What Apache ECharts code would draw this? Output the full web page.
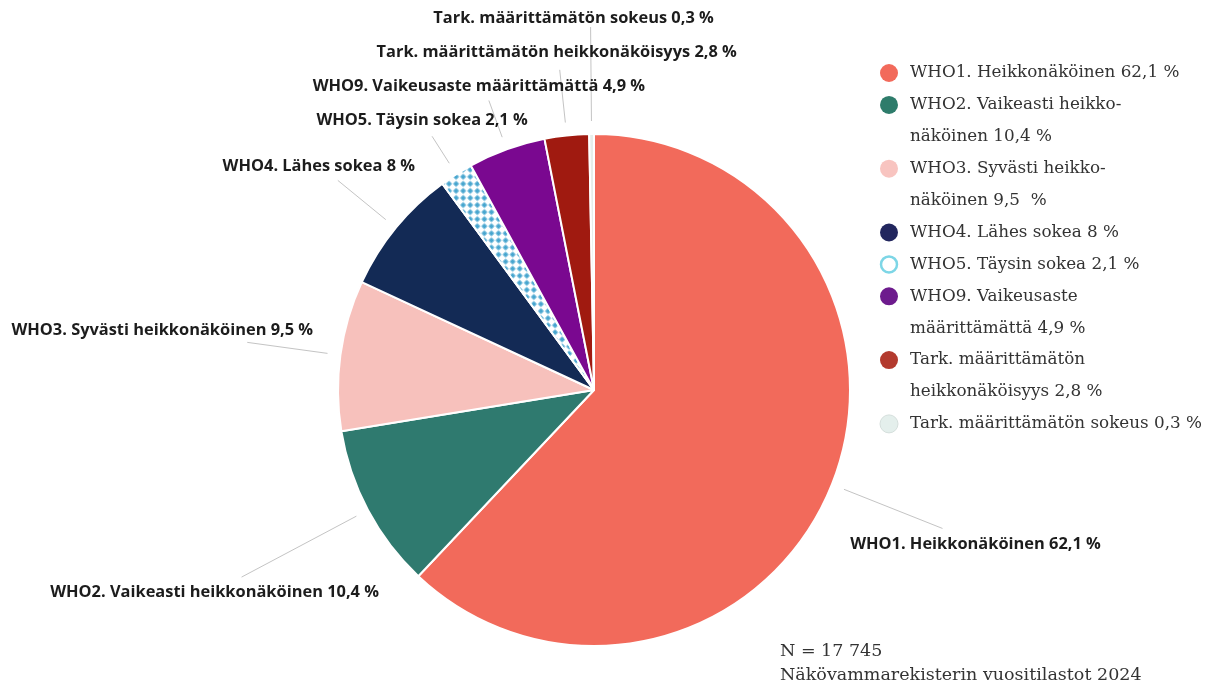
<!DOCTYPE html>
<html>
<head>
<meta charset="utf-8">
<script src="https://cdn.jsdelivr.net/npm/echarts@6/dist/echarts.min.js"></script>
<style>
  html, body { margin: 0; padding: 0; background: #fff; }
  #chart { width: 1212px; height: 686px; }
</style>
</head>
<body>
<div id="chart"></div>
<script>
// Näkövammaisten jakautuminen vaikeusasteen mukaan
const categories = [
  'WHO1. Heikkonäköinen',
  'WHO2. Vaikeasti heikkonäköinen',
  'WHO3. Syvästi heikkonäköinen',
  'WHO4. Lähes sokea',
  'WHO5. Täysin sokea',
  'WHO9. Vaikeusaste määrittämättä',
  'Tark. määrittämätön heikkonäköisyys',
  'Tark. määrittämätön sokeus'
];
const shares = [62.1, 10.4, 9.5, 8, 2.1, 4.9, 2.8, 0.3];
const legendLabels = [
  'WHO1. Heikkonäköinen 62,1 %',
  'WHO2. Vaikeasti heikko-\nnäköinen 10,4 %',
  'WHO3. Syvästi heikko-\nnäköinen 9,5  %',
  'WHO4. Lähes sokea 8 %',
  'WHO5. Täysin sokea 2,1 %',
  'WHO9. Vaikeusaste\nmäärittämättä 4,9 %',
  'Tark. määrittämätön\nheikkonäköisyys 2,8 %',
  'Tark. määrittämätön sokeus 0,3 %'
];

// styles / label placement
const sliceColors = ['#f26a5b', '#2f7a6f', '#f7c1bc', '#132a55', '#ffffff', '#7a0890', '#a01a10', '#e6eeeb'];
const legendColors = ['#f26a5b', '#2e7c6b', '#f8c4c0', '#22265e', '#ffffff', '#6d1b8d', '#b33a2e', '#e4efec'];
const leaderLen = [119, 143, 94, 75, 45, 52, 66, 107];
const labelDx = [33, -27, -85, -19, -10, -10, -3, -17];
const labelDy = [16, 15, -12, -14, -16, -14, -18, -9];

let chart = echarts.init(document.getElementById('chart'));

let pieData = categories.map(function (name, i) {
  let item = {
    name: name,
    value: shares[i],
    itemStyle: { color: sliceColors[i] },
    labelLine: { length: leaderLen[i] }
  };
  if (i === 4) {
    // rotated checkerboard -> blue diamonds on white
    item.itemStyle.decal = {
      symbol: 'rect',
      symbolSize: 0.85,
      color: '#48a6cf',
      backgroundColor: '#ffffff',
      dashArrayX: [[5, 5], [0, 5, 5, 0]],
      dashArrayY: [5, 0],
      rotation: Math.PI / 4
    };
  }
  return item;
});

// legend drawn as graphic so the marker sits on the first text line
let legendGraphics = [];
let lineNo = 0;
legendLabels.forEach(function (txt, i) {
  let y = 73 + lineNo * 31.9;
  let circle = {
    type: 'circle',
    shape: { cx: 889, cy: y, r: 9 },
    style: { fill: legendColors[i] }
  };
  if (i === 4) {
    circle.shape.r = 8;
    circle.style = { fill: '#ffffff', stroke: '#7dd6e6', lineWidth: 2.5 };
  }
  if (i === 7) {
    circle.style = { fill: legendColors[i], stroke: '#d5dfdc', lineWidth: 1 };
  }
  legendGraphics.push(circle);
  legendGraphics.push({
    type: 'text',
    x: 910,
    y: y - 16,
    style: {
      text: txt,
      fontFamily: 'DejaVu Serif',
      fontSize: 16.8,
      lineHeight: 32,
      verticalAlign: 'top',
      fill: '#333333'
    }
  });
  lineNo += txt.split('\n').length;
});

chart.setOption({
  backgroundColor: '#ffffff',
  animation: false,
  title: {
    text: 'N = 17 745\nNäkövammarekisterin vuositilastot 2024',
    left: 780,
    top: 639,
    padding: 0,
    textStyle: {
      fontFamily: 'DejaVu Serif',
      fontSize: 17.5,
      fontWeight: 'normal',
      lineHeight: 24,
      color: '#333333'
    }
  },
  graphic: legendGraphics,
  series: [
    {
      type: 'pie',
      center: [594, 390],
      radius: 256,
      startAngle: 90,
      clockwise: true,
      avoidLabelOverlap: false,
      itemStyle: {
        borderColor: '#ffffff',
        borderWidth: 2
      },
      label: {
        show: true,
        position: 'outside',
        fontFamily: 'Open Sans',
        fontWeight: 'bold',
        fontSize: 16.4,
        color: '#1c1c1c',
        formatter: function (p) {
          return p.name + ' ' + String(p.value).replace('.', ',') + ' %';
        }
      },
      labelLine: {
        show: true,
        length2: 0,
        lineStyle: { color: '#c4c4c4', width: 1 }
      },
      labelLayout: function (params) {
        let pts = params.labelLinePoints;
        if (!pts) return {};
        let i = params.dataIndex;
        let p0 = pts[0], p1 = pts[1];
        let dx = p1[0] - p0[0], dy = p1[1] - p0[1];
        let len = Math.sqrt(dx * dx + dy * dy) || 1;
        let start = [p0[0] + dx / len * 13, p0[1] + dy / len * 13];
        return {
          x: p1[0] + labelDx[i],
          y: p1[1] + labelDy[i],
          align: 'center',
          verticalAlign: 'middle',
          labelLinePoints: [start, p1]
        };
      },
      emphasis: { disabled: true },
      data: pieData
    }
  ]
});
</script>
</body>
</html>
